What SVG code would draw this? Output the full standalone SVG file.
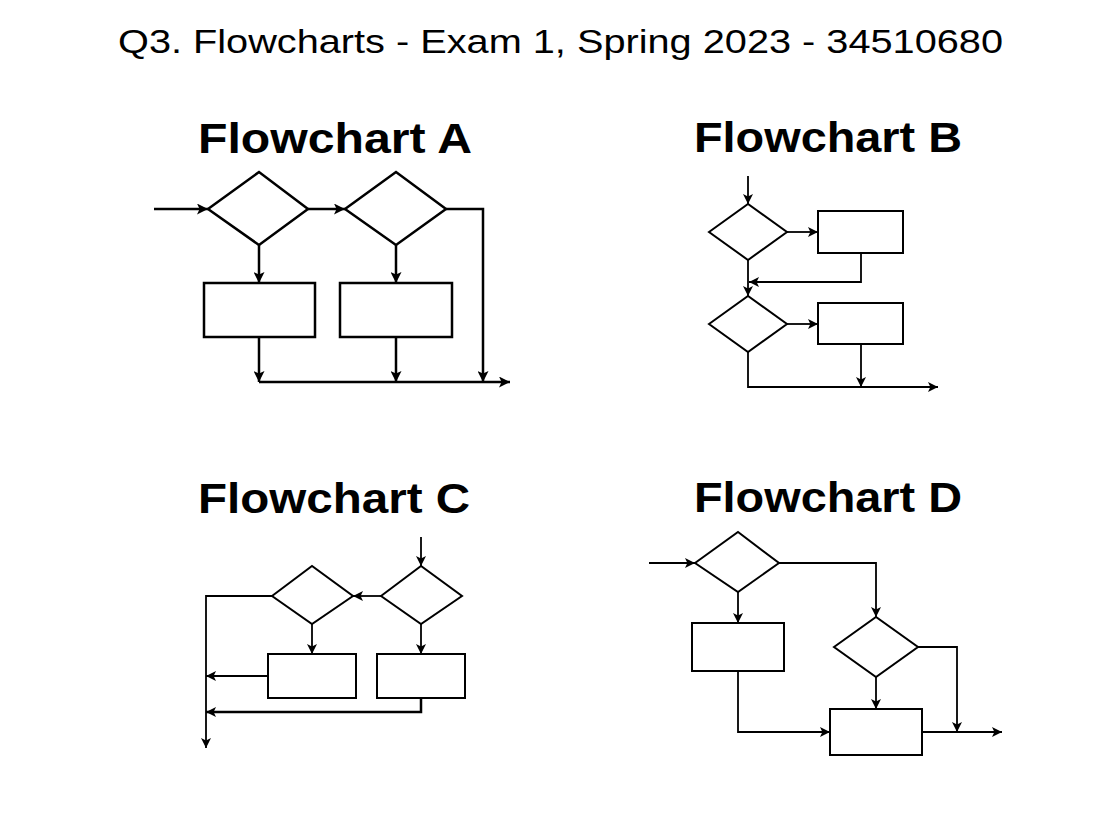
<svg xmlns="http://www.w3.org/2000/svg" width="1120" height="840" viewBox="0 0 1120 840">
<style>
.t{font-family:"Liberation Sans",Arial,sans-serif;fill:#000}
.h{font-family:"Liberation Sans",Arial,sans-serif;font-weight:bold;font-size:42px;fill:#000}
.s{fill:#fff;stroke:#000;stroke-width:2}
.sa{fill:#fff;stroke:#000;stroke-width:2.5}
.c{fill:none;stroke:#000;stroke-width:1.8}
.ca{fill:none;stroke:#000;stroke-width:2.5}
.a{marker-end:url(#arr)}
.aa{marker-end:url(#arrA)}
</style>
<defs>
<marker id="arr" markerUnits="userSpaceOnUse" markerWidth="11" markerHeight="10" refX="10" refY="5" orient="auto">
<path d="M0,0 L10,5 L0,10 L2.4,5 z" fill="#000"/>
</marker>
<marker id="arrA" markerUnits="userSpaceOnUse" markerWidth="12" markerHeight="11" refX="11" refY="5.5" orient="auto">
<path d="M0,0 L11,5.5 L0,11 L2.6,5.5 z" fill="#000"/>
</marker>
</defs>
<rect width="1120" height="840" fill="#fff"/>
<text class="t" x="118" y="53" font-size="33" textLength="885" lengthAdjust="spacingAndGlyphs">Q3. Flowcharts - Exam 1, Spring 2023 - 34510680</text>
<text class="h" x="198" y="153" textLength="274" lengthAdjust="spacingAndGlyphs">Flowchart A</text>
<text class="h" x="694" y="152" textLength="268" lengthAdjust="spacingAndGlyphs">Flowchart B</text>
<text class="h" x="198" y="513" textLength="272" lengthAdjust="spacingAndGlyphs">Flowchart C</text>
<text class="h" x="694" y="512" textLength="268" lengthAdjust="spacingAndGlyphs">Flowchart D</text>

<g id="connectors">
<g id="conn-A">
<path class="ca aa" d="M154,209 H208"/>
<path class="ca aa" d="M308,209 H345"/>
<path class="ca aa" d="M446,209 H483 V382"/>
<path class="ca aa" d="M259,245 V283"/>
<path class="ca aa" d="M396,245 V283"/>
<path class="ca aa" d="M259,337 V382"/>
<path class="ca aa" d="M396,337 V382"/>
<path class="ca aa" d="M259,382 H510"/>
</g>
<g id="conn-B">
<path class="c a" d="M748,176 V204"/>
<path class="c a" d="M787,232 H818"/>
<path class="c a" d="M861,253 V282 H749"/>
<path class="c a" d="M748,260 V296"/>
<path class="c a" d="M787,324 H818"/>
<path class="c a" d="M861,344 V387"/>
<path class="c a" d="M748,352 V387 H938"/>
</g>
<g id="conn-C">
<path class="c a" d="M421,537 V566"/>
<path class="c a" d="M381,596 H353"/>
<path class="c a" d="M272,596 H206 V748"/>
<path class="c a" d="M312,624 V654"/>
<path class="c a" d="M421,624 V654"/>
<path class="c a" d="M268,676 H206"/>
<path class="ca a" d="M421,698 V712 H206"/>
</g>
<g id="conn-D">
<path class="c a" d="M649,563 H695"/>
<path class="c a" d="M738,592 V623"/>
<path class="c a" d="M779,563 H876 V617"/>
<path class="c a" d="M876,677 V709"/>
<path class="c a" d="M738,671 V732 H830"/>
<path class="c a" d="M918,647 H957 V732"/>
<path class="c a" d="M922,732 H1002"/>
</g>
</g>

<g id="A-d1"><polygon class="sa" points="208,209 259,172 308,209 259,245"/></g>
<g id="A-d2"><polygon class="sa" points="345,209 396,172 446,209 396,245"/></g>
<g id="A-r1"><rect class="sa" x="204" y="283" width="111" height="54"/></g>
<g id="A-r2"><rect class="sa" x="340" y="283" width="112" height="54"/></g>

<g id="B-d1"><polygon class="s" points="709,232 748,204 787,232 748,260"/></g>
<g id="B-r1"><rect class="s" x="818" y="211" width="85" height="42"/></g>
<g id="B-d2"><polygon class="s" points="709,324 748,296 787,324 748,352"/></g>
<g id="B-r2"><rect class="s" x="818" y="303" width="85" height="41"/></g>

<g id="C-d1"><polygon class="s" points="381,596 421,566 462,596 421,624"/></g>
<g id="C-d2"><polygon class="s" points="272,596 312,566 353,596 312,624"/></g>
<g id="C-r1"><rect class="s" x="268" y="654" width="88" height="44"/></g>
<g id="C-r2"><rect class="s" x="377" y="654" width="88" height="44"/></g>

<g id="D-d1"><polygon class="s" points="695,563 738,532 779,563 738,592"/></g>
<g id="D-r1"><rect class="s" x="692" y="623" width="92" height="48"/></g>
<g id="D-d2"><polygon class="s" points="834,647 876,617 918,647 876,677"/></g>
<g id="D-r2"><rect class="s" x="830" y="709" width="92" height="46"/></g>
</svg>
